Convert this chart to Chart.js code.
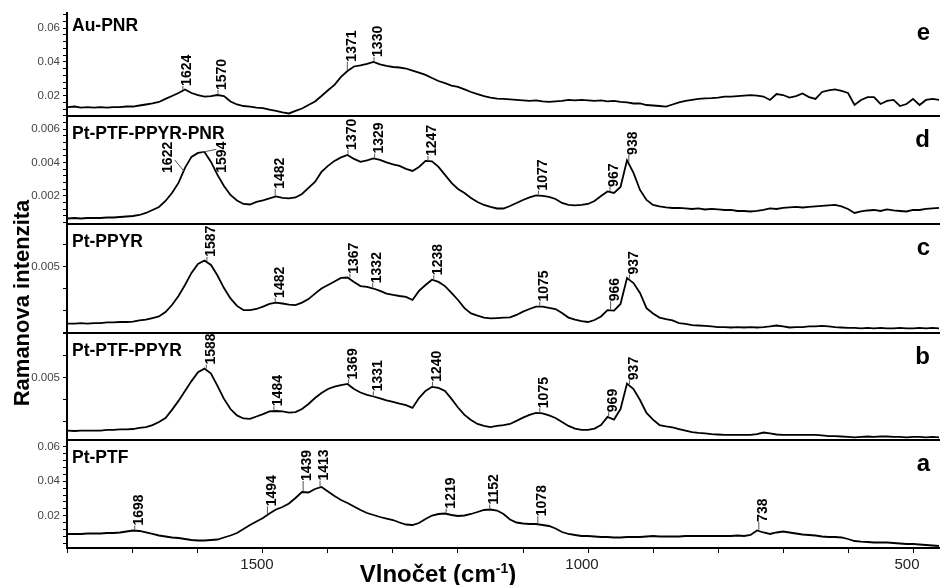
<!DOCTYPE html>
<html>
<head>
<meta charset="utf-8">
<script src="https://cdn.jsdelivr.net/npm/chart.js@4.4.1/dist/chart.umd.min.js"></script>
<style>
html,body{margin:0;padding:0;background:#fff;}
canvas{display:block;}
</style>
</head>
<body>
<canvas id="chart" width="940" height="585" style="width:940px;height:585px"></canvas>
<script>
// ---------------- DATA ----------------
const wavenumbers = [
  1800,1790,1780,1770,1760,1750,1740,1730,1720,1710,
  1700,1690,1680,1670,1660,1650,1640,1630,1620,1610,
  1600,1590,1580,1570,1560,1550,1540,1530,1520,1510,
  1500,1490,1480,1470,1460,1450,1440,1430,1420,1410,
  1400,1390,1380,1370,1360,1350,1340,1330,1320,1310,
  1300,1290,1280,1270,1260,1250,1240,1230,1220,1210,
  1200,1190,1180,1170,1160,1150,1140,1130,1120,1110,
  1100,1090,1080,1070,1060,1050,1040,1030,1020,1010,
  1000,990,980,970,960,950,940,930,920,910,
  900,890,880,870,860,850,840,830,820,810,
  800,790,780,770,760,750,740,730,720,710,
  700,690,680,670,660,650,640,630,620,610,
  600,590,580,570,560,550,540,530,520,510,
  500,490,480,470,460
];

// e: Au-PNR
const intensityAuPNR = [
  0.0133,0.0136,0.0130,0.0133,0.0130,0.0133,0.0130,0.0133,0.0133,0.0136,
  0.0136,0.0142,0.0148,0.0154,0.0163,0.0181,0.0198,0.0216,0.0237,0.0216,
  0.0204,0.0195,0.0198,0.0204,0.0198,0.0166,0.0148,0.0139,0.0136,0.0130,
  0.0127,0.0118,0.0110,0.0101,0.0095,0.0110,0.0124,0.0145,0.0166,0.0198,
  0.0232,0.0264,0.0311,0.0346,0.0373,0.0379,0.0388,0.0400,0.0385,0.0376,
  0.0370,0.0367,0.0361,0.0349,0.0337,0.0323,0.0305,0.0287,0.0275,0.0260,
  0.0252,0.0237,0.0222,0.0210,0.0198,0.0189,0.0183,0.0181,0.0178,0.0175,
  0.0172,0.0169,0.0172,0.0166,0.0163,0.0166,0.0169,0.0175,0.0172,0.0175,
  0.0172,0.0169,0.0172,0.0166,0.0169,0.0163,0.0160,0.0154,0.0154,0.0145,
  0.0142,0.0139,0.0136,0.0148,0.0160,0.0169,0.0175,0.0181,0.0184,0.0186,
  0.0189,0.0195,0.0195,0.0198,0.0201,0.0204,0.0201,0.0195,0.0175,0.0210,
  0.0204,0.0189,0.0198,0.0213,0.0192,0.0181,0.0222,0.0231,0.0237,0.0228,
  0.0216,0.0145,0.0175,0.0192,0.0192,0.0151,0.0169,0.0175,0.0139,0.0151,
  0.0181,0.0145,0.0175,0.0181,0.0175
];

// d: Pt-PTF-PPYR-PNR
const intensityPtPTFPPYRPNR = [
  0.00065,0.00068,0.00065,0.00068,0.00068,0.00068,0.00071,0.00071,0.00074,0.00077,
  0.00080,0.00086,0.00098,0.00116,0.00134,0.00170,0.00218,0.00278,0.00368,0.00434,
  0.00458,0.00464,0.00404,0.00326,0.00260,0.00206,0.00173,0.00152,0.00149,0.00164,
  0.00173,0.00185,0.00197,0.00188,0.00185,0.00191,0.00212,0.00248,0.00284,0.00344,
  0.00380,0.00410,0.00431,0.00446,0.00422,0.00404,0.00413,0.00425,0.00416,0.00401,
  0.00389,0.00380,0.00362,0.00350,0.00374,0.00410,0.00407,0.00374,0.00326,0.00278,
  0.00242,0.00218,0.00188,0.00164,0.00146,0.00134,0.00125,0.00125,0.00140,0.00158,
  0.00176,0.00191,0.00203,0.00200,0.00194,0.00182,0.00158,0.00146,0.00143,0.00146,
  0.00152,0.00170,0.00200,0.00227,0.00218,0.00254,0.00413,0.00338,0.00236,0.00176,
  0.00146,0.00137,0.00131,0.00128,0.00128,0.00125,0.00122,0.00125,0.00119,0.00122,
  0.00119,0.00116,0.00116,0.00110,0.00110,0.00107,0.00110,0.00116,0.00125,0.00122,
  0.00128,0.00131,0.00134,0.00131,0.00134,0.00137,0.00140,0.00143,0.00146,0.00137,
  0.00122,0.00098,0.00107,0.00113,0.00116,0.00110,0.00119,0.00113,0.00110,0.00107,
  0.00116,0.00116,0.00122,0.00125,0.00128
];

// c: Pt-PPYR
const intensityPtPPYR = [
  0.00242,0.00242,0.00244,0.00242,0.00244,0.00244,0.00247,0.00247,0.00249,0.00249,
  0.00251,0.00256,0.00260,0.00267,0.00274,0.00294,0.00326,0.00367,0.00417,0.00472,
  0.00513,0.00528,0.00508,0.00460,0.00403,0.00356,0.00322,0.00303,0.00303,0.00308,
  0.00319,0.00331,0.00337,0.00333,0.00328,0.00326,0.00337,0.00353,0.00378,0.00401,
  0.00417,0.00433,0.00449,0.00451,0.00431,0.00412,0.00408,0.00401,0.00390,0.00378,
  0.00372,0.00367,0.00363,0.00349,0.00390,0.00417,0.00441,0.00431,0.00412,0.00381,
  0.00349,0.00312,0.00288,0.00278,0.00269,0.00265,0.00267,0.00269,0.00270,0.00281,
  0.00296,0.00308,0.00319,0.00319,0.00313,0.00308,0.00290,0.00269,0.00260,0.00253,
  0.00249,0.00258,0.00274,0.00303,0.00301,0.00331,0.00449,0.00426,0.00381,0.00312,
  0.00288,0.00269,0.00262,0.00256,0.00244,0.00240,0.00235,0.00233,0.00231,0.00229,
  0.00226,0.00226,0.00224,0.00226,0.00224,0.00226,0.00224,0.00226,0.00229,0.00233,
  0.00229,0.00224,0.00226,0.00226,0.00229,0.00229,0.00231,0.00229,0.00226,0.00224,
  0.00222,0.00222,0.00220,0.00222,0.00220,0.00222,0.00220,0.00220,0.00222,0.00220,
  0.00220,0.00222,0.00220,0.00222,0.00220
];

// b: Pt-PTF-PPYR
const intensityPtPTFPPYR = [
  0.00258,0.00256,0.00258,0.00258,0.00258,0.00258,0.00261,0.00261,0.00263,0.00263,
  0.00265,0.00270,0.00274,0.00283,0.00297,0.00315,0.00352,0.00393,0.00438,0.00483,
  0.00524,0.00540,0.00517,0.00461,0.00402,0.00356,0.00327,0.00313,0.00311,0.00322,
  0.00333,0.00345,0.00347,0.00345,0.00340,0.00342,0.00356,0.00379,0.00406,0.00429,
  0.00447,0.00458,0.00465,0.00470,0.00447,0.00431,0.00420,0.00413,0.00404,0.00395,
  0.00388,0.00381,0.00374,0.00361,0.00406,0.00438,0.00457,0.00452,0.00438,0.00402,
  0.00363,0.00329,0.00306,0.00288,0.00279,0.00274,0.00279,0.00283,0.00288,0.00302,
  0.00317,0.00329,0.00338,0.00336,0.00327,0.00315,0.00297,0.00279,0.00267,0.00261,
  0.00261,0.00267,0.00283,0.00320,0.00308,0.00356,0.00472,0.00447,0.00397,0.00338,
  0.00308,0.00283,0.00277,0.00272,0.00265,0.00258,0.00251,0.00247,0.00245,0.00242,
  0.00240,0.00238,0.00238,0.00238,0.00238,0.00238,0.00242,0.00249,0.00245,0.00240,
  0.00238,0.00238,0.00238,0.00238,0.00238,0.00238,0.00236,0.00233,0.00233,0.00231,
  0.00229,0.00227,0.00229,0.00231,0.00229,0.00231,0.00231,0.00229,0.00229,0.00227,
  0.00229,0.00229,0.00227,0.00229,0.00227
];

// a: Pt-PTF
const intensityPtPTF = [
  0.00945,0.00945,0.00945,0.00974,0.00974,0.00974,0.01003,0.01003,0.01032,0.01090,
  0.01148,0.01119,0.01032,0.00945,0.00858,0.00800,0.00742,0.00713,0.00655,0.00597,
  0.00568,0.00568,0.00597,0.00626,0.00742,0.00858,0.01003,0.01235,0.01467,0.01670,
  0.01873,0.02134,0.02365,0.02510,0.02713,0.03032,0.03380,0.03351,0.03554,0.03670,
  0.03409,0.03148,0.02916,0.02742,0.02539,0.02336,0.02162,0.02046,0.01930,0.01843,
  0.01756,0.01611,0.01495,0.01467,0.01583,0.01815,0.02017,0.02104,0.02133,0.02046,
  0.01988,0.02017,0.02104,0.02220,0.02336,0.02365,0.02307,0.02104,0.01786,0.01611,
  0.01553,0.01524,0.01524,0.01467,0.01409,0.01264,0.01061,0.00945,0.00887,0.00829,
  0.00829,0.00800,0.00771,0.00771,0.00742,0.00742,0.00771,0.00771,0.00771,0.00800,
  0.00829,0.00800,0.00800,0.00800,0.00800,0.00829,0.00829,0.00829,0.00829,0.00829,
  0.00829,0.00829,0.00829,0.00858,0.00829,0.00887,0.01148,0.01032,0.00945,0.01032,
  0.01090,0.01032,0.00974,0.00916,0.00887,0.00858,0.00800,0.00771,0.00771,0.00742,
  0.00655,0.00539,0.00499,0.00481,0.00452,0.00452,0.00452,0.00423,0.00394,0.00365,
  0.00365,0.00336,0.00307,0.00278,0.00249
];

// peak annotations (wavenumbers, cm-1)
const peaksAuPNR = [1624, 1570, 1371, 1330];
const peaksPtPTFPPYRPNR = [1622, 1594, 1482, 1370, 1329, 1247, 1077, 967, 938];
const peaksPtPPYR = [1587, 1482, 1367, 1332, 1238, 1075, 966, 937];
const peaksPtPTFPPYR = [1588, 1484, 1369, 1331, 1240, 1075, 969, 937];
const peaksPtPTF = [1698, 1494, 1439, 1413, 1219, 1152, 1078, 738];

const panelNames = ['Au-PNR', 'Pt-PTF-PPYR-PNR', 'Pt-PPYR', 'Pt-PTF-PPYR', 'Pt-PTF'];
const panelLetters = ['e', 'd', 'c', 'b', 'a'];
const xTickLabels = [1500, 1000, 500];
const yAxisTitle = 'Ramanova intenzita';
const xAxisTitle = 'Vlnočet (cm';
const xAxisTitleSup = '-1';
const xAxisTitleEnd = ')';

// ---------------- LAYOUT / STYLE ----------------
const FONT = "'Liberation Sans', Arial, Helvetica, sans-serif";
Chart.defaults.font.family = FONT;

// label placement tweaks (pixels)
const labelNudges = {
  'd1622': {tx: -23, ty: 2, lx: -9, ly: -11},
  'd1594': {tx: 13.5, ty: 20.5, lx: 14.5, ly: -3},
  'e1371': {lift: 10},
  'd1482': {lift: 8},
  'd938': {lift: 8},
  'c966': {lift: 9},
  'a1494': {lift: 9},
  'a1439': {lift: 11},
  'a1413': {lift: 7},
  'a1078': {lift: 8},
  'a738': {lift: 9}
};

// panels listed top -> bottom
const panels = [
  {id: 'yE', key: 'e', values: intensityAuPNR, peaks: peaksAuPNR, min: 0.00799, max: 0.06896, minor: 0.004, major: 0.02, weight: 103},
  {id: 'yD', key: 'd', values: intensityPtPTFPPYRPNR, peaks: peaksPtPTFPPYRPNR, min: 0.00032, max: 0.00679, minor: 0.0004, major: 0.002, weight: 108},
  {id: 'yC', key: 'c', values: intensityPtPPYR, peaks: peaksPtPPYR, min: 0.00199, max: 0.00694, minor: 0.001, major: 0.005, weight: 109},
  {id: 'yB', key: 'b', values: intensityPtPTFPPYR, peaks: peaksPtPTFPPYR, min: 0.00215, max: 0.00702, minor: 0.001, major: 0.005, weight: 107},
  {id: 'yA', key: 'a', values: intensityPtPTF, peaks: peaksPtPTF, min: 0.00133, max: 0.06394, minor: 0.004, major: 0.02, weight: 108}
];

function isMult(v, step) {
  const r = v / step;
  return Math.abs(r - Math.round(r)) < 1e-6;
}
function fmt(v) { return String(Number(v.toFixed(6))); }

function yScale(p, order) {
  return {
    type: 'linear',
    position: 'left',
    stack: 'panels',
    stackWeight: p.weight,
    weight: order,
    min: p.min,
    max: p.max,
    grid: {
      drawOnChartArea: false,
      drawTicks: true,
      tickLength: 4,
      tickWidth: 1,
      tickColor: (c) => (c.tick && isMult(c.tick.value, p.minor)) ? '#000' : 'rgba(0,0,0,0)'
    },
    border: {display: true, color: '#000', width: 2},
    ticks: {
      stepSize: p.minor,
      includeBounds: false,
      autoSkip: false,
      padding: 3,
      color: '#444',
      font: {size: 11.5, family: FONT},
      callback: (v) => isMult(v, p.major) ? fmt(v) : ''
    },
    afterFit: (s) => { s.width = 67; }
  };
}

const scales = {
  x: {
    type: 'linear',
    position: 'bottom',
    reverse: true,
    min: 458.5,
    max: 1801.5,
    grid: {
      drawOnChartArea: false,
      drawTicks: true,
      tickLength: 5,
      tickWidth: 1,
      tickColor: (c) => (c.tick && isMult(c.tick.value, 100)) ? '#000' : 'rgba(0,0,0,0)'
    },
    border: {display: true, color: '#000', width: 2},
    ticks: {
      stepSize: 100,
      includeBounds: false,
      autoSkip: false,
      maxRotation: 0,
      padding: 3,
      labelOffset: -6,
      color: '#222',
      font: {size: 15, family: FONT},
      callback: (v) => xTickLabels.includes(Math.round(v)) && isMult(v, 100) ? String(Math.round(v)) : ''
    },
    afterFit: (s) => { s.height = 37; }
  }
};
// define bottom panel first so the top panel ends up on top of the stack
for (let i = panels.length - 1; i >= 0; i--) {
  scales[panels[i].id] = yScale(panels[i], panels.length - i);
}

function valueAt(values, wn) {
  for (let i = 0; i < wavenumbers.length - 1; i++) {
    const a = wavenumbers[i], b = wavenumbers[i + 1];
    if (wn <= a && wn >= b) {
      const t = (a - wn) / (a - b);
      return values[i] + (values[i + 1] - values[i]) * t;
    }
  }
  return values[0];
}

const decorPlugin = {
  id: 'decor',
  afterDraw(chart) {
    const {ctx, chartArea, scales: sc} = chart;
    const xS = sc.x;
    ctx.save();
    panels.forEach((p, idx) => {
      const yS = sc[p.id];
      // separator line on top of every panel except the uppermost
      if (idx > 0) {
        ctx.strokeStyle = '#000';
        ctx.lineWidth = 2;
        ctx.beginPath();
        ctx.moveTo(chartArea.left, Math.round(yS.top));
        ctx.lineTo(chartArea.right, Math.round(yS.top));
        ctx.stroke();
      }
      // panel name
      ctx.fillStyle = '#000';
      ctx.font = 'bold 17.5px ' + FONT;
      ctx.textAlign = 'left';
      ctx.textBaseline = 'alphabetic';
      ctx.fillText(panelNames[idx], chartArea.left + 5, yS.top + (idx === 0 ? 18 : 23));
      // panel letter
      ctx.font = 'bold 24px ' + FONT;
      ctx.textAlign = 'right';
      ctx.fillText(panelLetters[idx], 930, yS.top + (idx === 0 ? 27 : 31));
      // peak labels
      p.peaks.forEach((wn) => {
        const x = xS.getPixelForValue(wn);
        const y = yS.getPixelForValue(valueAt(p.values, wn));
        const n = labelNudges[p.key + wn] || {};
        let tx, ty;
        ctx.strokeStyle = '#555';
        ctx.lineWidth = 1;
        ctx.beginPath();
        if (n.tx !== undefined) {
          tx = x + n.tx; ty = y + n.ty;
          ctx.moveTo(x, y);
          ctx.lineTo(x + n.lx, y + n.ly);
        } else {
          const lift = n.lift || 5;
          tx = x - 2; ty = y - lift;
          ctx.moveTo(x + 0.5, y - 1);
          ctx.lineTo(x + 0.5, y - lift);
        }
        ctx.stroke();
        ctx.save();
        ctx.translate(tx, ty);
        ctx.rotate(-Math.PI / 2);
        ctx.font = 'bold 14px ' + FONT;
        ctx.textAlign = 'left';
        ctx.textBaseline = 'top';
        ctx.fillStyle = '#000';
        ctx.fillText(String(wn), 0, 0);
        ctx.restore();
      });
    });
    // y axis title
    ctx.save();
    ctx.translate(23, 303);
    ctx.rotate(-Math.PI / 2);
    ctx.font = 'bold 22px ' + FONT;
    ctx.textAlign = 'center';
    ctx.textBaseline = 'middle';
    ctx.fillStyle = '#000';
    ctx.fillText(yAxisTitle, 0, 0);
    ctx.restore();
    // x axis title with superscript
    ctx.font = 'bold 24px ' + FONT;
    const w1 = ctx.measureText(xAxisTitle).width;
    const w3 = ctx.measureText(xAxisTitleEnd).width;
    ctx.font = 'bold 14px ' + FONT;
    const w2 = ctx.measureText(xAxisTitleSup).width;
    const sx = 438 - (w1 + w2 + w3) / 2;
    const base = 582;
    ctx.fillStyle = '#000';
    ctx.textAlign = 'left';
    ctx.textBaseline = 'alphabetic';
    ctx.font = 'bold 24px ' + FONT;
    ctx.fillText(xAxisTitle, sx, base);
    ctx.font = 'bold 14px ' + FONT;
    ctx.fillText(xAxisTitleSup, sx + w1, base - 9);
    ctx.font = 'bold 24px ' + FONT;
    ctx.fillText(xAxisTitleEnd, sx + w1 + w2, base);
    ctx.restore();
  }
};

const datasets = panels.map((p) => ({
  data: wavenumbers.map((w, i) => ({x: w, y: p.values[i]})),
  yAxisID: p.id,
  borderColor: '#000',
  borderWidth: 1.8,
  pointRadius: 0,
  tension: 0,
  fill: false
}));

new Chart(document.getElementById('chart'), {
  type: 'line',
  data: {datasets},
  options: {
    responsive: false,
    maintainAspectRatio: false,
    devicePixelRatio: 1,
    animation: false,
    layout: {padding: {top: 13, left: 0, right: 0, bottom: 0}},
    plugins: {legend: {display: false}, tooltip: {enabled: false}, title: {display: false}},
    scales
  },
  plugins: [decorPlugin]
});
</script>
</body>
</html>
